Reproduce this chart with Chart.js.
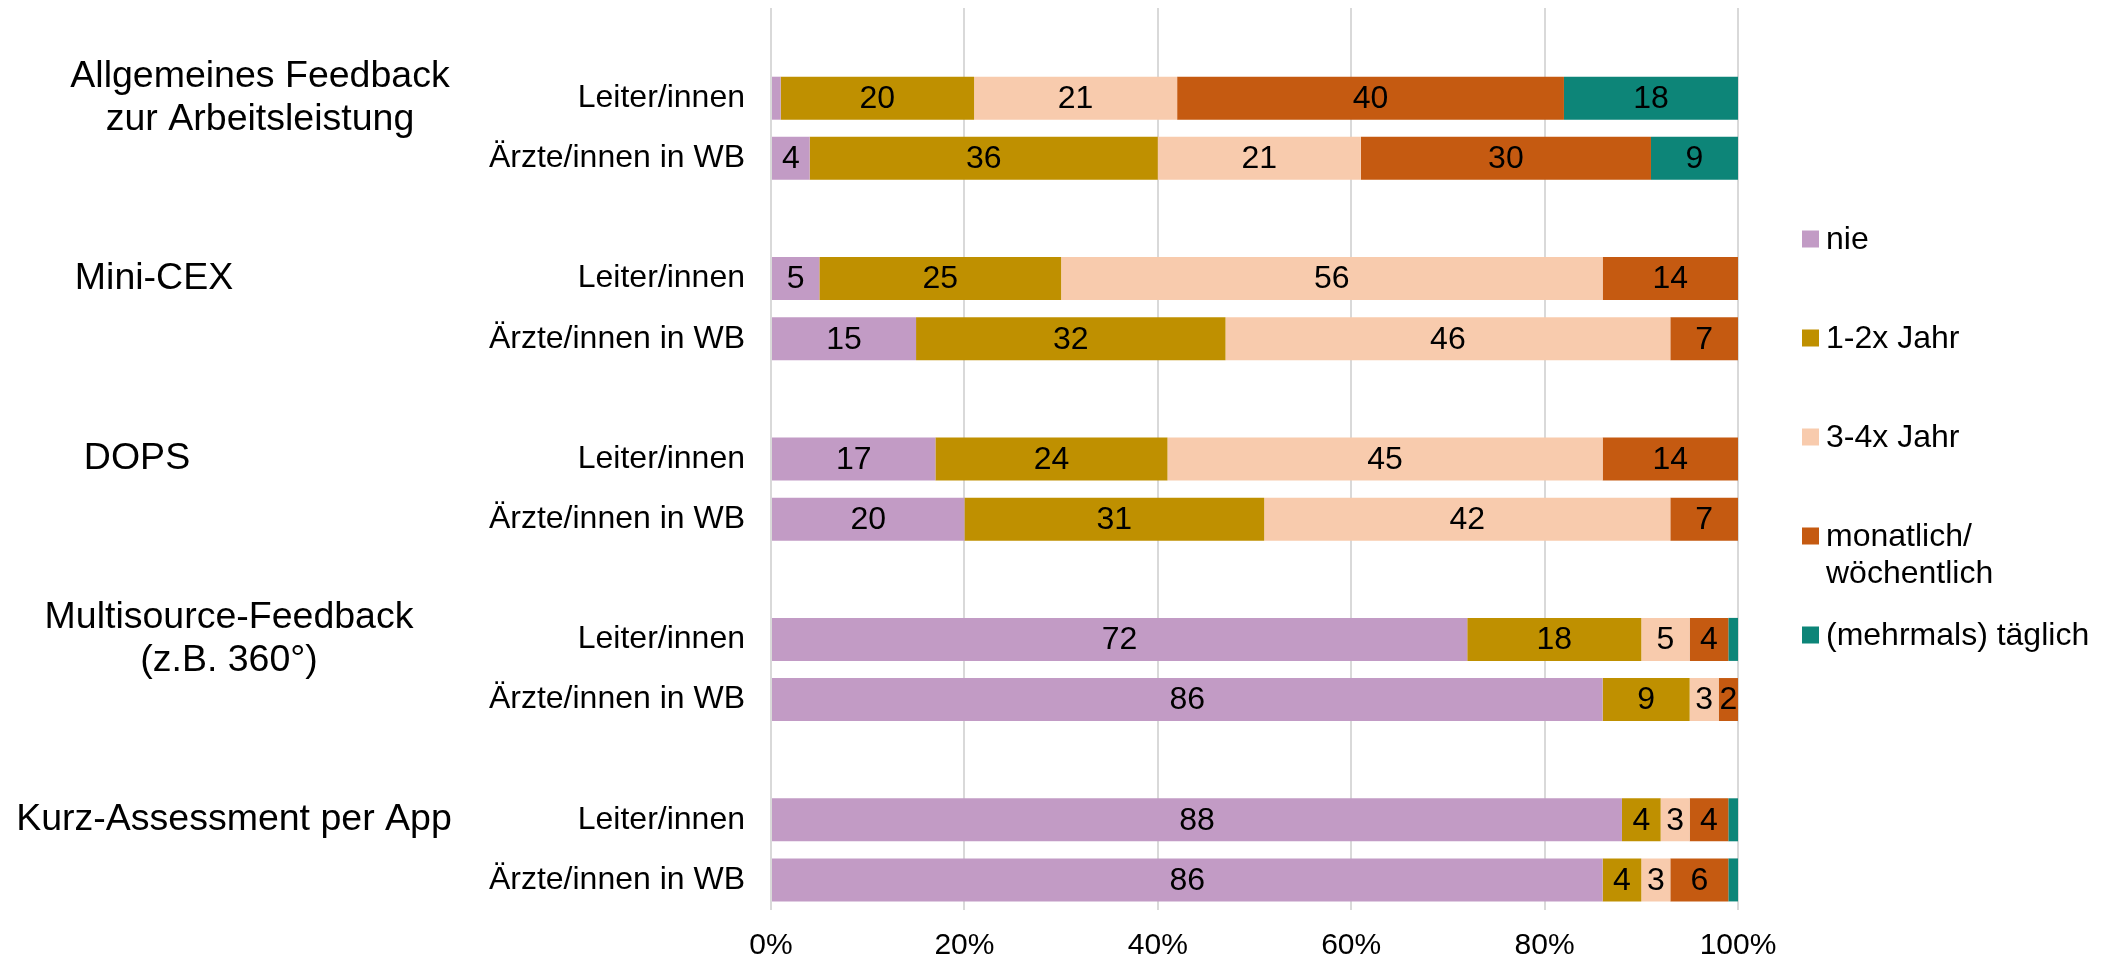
<!DOCTYPE html>
<html lang="de">
<head>
<meta charset="utf-8">
<title>Feedback-Formate</title>
<script src="https://cdn.jsdelivr.net/npm/chart.js@4.4.1/dist/chart.umd.min.js"></script>
<style>
  html, body { margin: 0; padding: 0; background: #fff; }
  #wrap { width: 2103px; height: 958px; position: relative; }
</style>
</head>
<body>
<div id="wrap"><canvas id="chart"></canvas></div>
<script>
// ── Data ──
const rowLabels = ['', 'Leiter/innen', 'Ärzte/innen in WB', '', 'Leiter/innen', 'Ärzte/innen in WB', '',
  'Leiter/innen', 'Ärzte/innen in WB', '', 'Leiter/innen', 'Ärzte/innen in WB', '', 'Leiter/innen', 'Ärzte/innen in WB'];
const groupNames = [['Allgemeines Feedback', 'zur Arbeitsleistung'], ['Mini-CEX'], ['DOPS'],
  ['Multisource-Feedback', '(z.B. 360°)'], ['Kurz-Assessment per App']];
const seriesNames = ['nie', '1-2x Jahr', '3-4x Jahr', ['monatlich/', 'wöchentlich'], '(mehrmals) täglich'];

const nie       = [null, 1, 4, null, 5, 15, null, 17, 20, null, 72, 86, null, 88, 86];
const jahr12    = [null, 20, 36, null, 25, 32, null, 24, 31, null, 18, 9, null, 4, 4];
const jahr34    = [null, 21, 21, null, 56, 46, null, 45, 42, null, 5, 3, null, 3, 3];
const monatlich = [null, 40, 30, null, 14, 7, null, 14, 7, null, 4, 2, null, 4, 6];
const taeglich  = [null, 18, 9, null, 0, 0, null, 0, 0, null, 1, 0, null, 1, 1];

const xTicks = ['0%', '20%', '40%', '60%', '80%', '100%'];

// ── Styling ──
const FONT = "'Liberation Sans', Arial, sans-serif";
const colors = ['#c29bc5', '#bf9000', '#f8cbad', '#c55a11', '#0d8578'];
const groupLabelX = [260, 154, 137, 229, 234]; // centre of each group caption
const series = [nie, jahr12, jahr34, monatlich, taeglich];

// ── Plugins: value labels, group captions, legend ──
const valueLabels = {
  id: 'valueLabels',
  afterDatasetsDraw(chart) {
    const { ctx } = chart;
    ctx.save();
    ctx.font = `32px ${FONT}`;
    ctx.fillStyle = '#000';
    ctx.textAlign = 'center';
    ctx.textBaseline = 'middle';
    chart.data.datasets.forEach((ds, i) => {
      chart.getDatasetMeta(i).data.forEach((bar, j) => {
        const v = ds.data[j];
        if (v == null || v < 2) return;
        const p = bar.getCenterPoint();
        ctx.fillText(String(v), p.x, p.y + 1);
      });
    });
    ctx.restore();
  }
};

const groupCaptions = {
  id: 'groupCaptions',
  afterDraw(chart) {
    const { ctx } = chart;
    const yScale = chart.scales.y;
    const leaderRows = rowLabels.map((l, i) => l === 'Leiter/innen' ? i : -1).filter(i => i >= 0);
    ctx.save();
    ctx.font = `37.5px ${FONT}`;
    ctx.fillStyle = '#000';
    ctx.textAlign = 'center';
    ctx.textBaseline = 'middle';
    groupNames.forEach((lines, g) => {
      const yc = yScale.getPixelForValue(leaderRows[g]);
      const lh = 43;
      lines.forEach((t, k) => {
        ctx.fillText(t, groupLabelX[g], yc + (k - (lines.length - 1) / 2) * lh);
      });
    });
    ctx.restore();
  }
};

const sideLegend = {
  id: 'sideLegend',
  afterDraw(chart) {
    const { ctx, chartArea } = chart;
    const x0 = chartArea.right + 64;
    let y = 239;
    ctx.save();
    ctx.font = `32px ${FONT}`;
    ctx.textAlign = 'left';
    ctx.textBaseline = 'middle';
    seriesNames.forEach((name, i) => {
      ctx.fillStyle = colors[i];
      ctx.fillRect(x0, y - 8.5, 17, 17);
      ctx.fillStyle = '#000';
      const lines = Array.isArray(name) ? name : [name];
      lines.forEach((t, k) => ctx.fillText(t, x0 + 24, y + 1 + k * 37));
      y += 99;
    });
    ctx.restore();
  }
};

// ── Chart ──
new Chart(document.getElementById('chart'), {
  type: 'bar',
  data: {
    labels: rowLabels,
    datasets: series.map((d, i) => ({
      label: Array.isArray(seriesNames[i]) ? seriesNames[i].join(' ') : seriesNames[i],
      data: d,
      backgroundColor: colors[i],
      borderWidth: 0,
      barPercentage: 0.715,
      categoryPercentage: 1,
    }))
  },
  options: {
    indexAxis: 'y',
    responsive: true,
    maintainAspectRatio: false,
    animation: false,
    layout: { padding: { top: 8, right: 365, left: 0, bottom: 0 } },
    plugins: { legend: { display: false }, tooltip: { enabled: false } },
    scales: {
      x: {
        stacked: true, min: 0, max: 100,
        afterFit: s => { s.height = 48; s.paddingLeft = 0; s.paddingRight = 0; },
        afterBuildTicks: s => { s.ticks = xTicks.map((_, i) => ({ value: i * 20 })); },
        border: { display: false },
        grid: { color: '#d9d9d9', lineWidth: 2, drawTicks: false },
        ticks: {
          padding: 18, color: '#000', font: { family: FONT, size: 30 },
          callback: (v, i) => xTicks[i]
        }
      },
      y: {
        stacked: true,
        afterFit: s => { s.width = 771; s.paddingTop = 0; s.paddingBottom = 0; },
        border: { display: false },
        grid: { display: false, drawTicks: false, tickLength: 0 },
        ticks: { autoSkip: false, padding: 26, color: '#000', font: { family: FONT, size: 32 } }
      }
    }
  },
  plugins: [valueLabels, groupCaptions, sideLegend]
});
</script>
</body>
</html>
